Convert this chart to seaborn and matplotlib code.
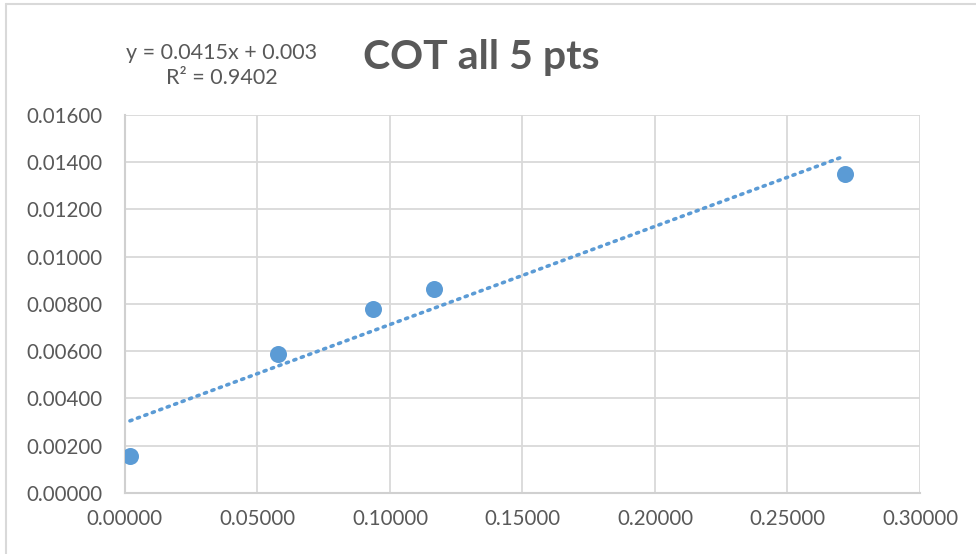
import numpy as np
import pandas as pd
import matplotlib
matplotlib.use("Agg")
import matplotlib.pyplot as plt
import seaborn as sns
from matplotlib.ticker import FormatStrFormatter
from matplotlib.lines import Line2D

# data
x_vals = [0.0019, 0.0577, 0.0936, 0.1166, 0.2717]
y_vals = [0.00156, 0.00588, 0.00778, 0.00863, 0.01350]
x_ticks = [0.0, 0.05, 0.10, 0.15, 0.20, 0.25, 0.30]
y_ticks = [0.0, 0.002, 0.004, 0.006, 0.008, 0.010, 0.012, 0.014, 0.016]

title = "COT all 5 pts"
eq_text = "y = 0.0415x + 0.003\nR² = 0.9402"

df = pd.DataFrame({"x": x_vals, "y": y_vals})

sns.set_style("white")
plt.rcParams['font.family'] = ['Lato', 'DejaVu Sans']

grey_txt = "#595959"
blue = "#5B9BD5"

fig = plt.figure(figsize=(9.76, 5.54), dpi=100)
ax = fig.add_axes([0.128, 0.1106, 0.8146, 0.6818])

# linear trendline over the data range
slope, intercept = np.polyfit(df["x"], df["y"], 1)
xs = np.array([df["x"].min(), df["x"].max()])
ax.plot(xs, slope * xs + intercept, linestyle=(0, (0.6, 1.6)), color=blue,
        lw=2.6, dash_capstyle="round", zorder=2)

sns.scatterplot(data=df, x="x", y="y", ax=ax, s=150, color=blue,
                edgecolor=blue, linewidth=0, zorder=3)

ax.set_xlim(0, 0.3)
ax.set_ylim(0, 0.016)
ax.set_xticks(x_ticks)
ax.set_yticks(y_ticks)
ax.xaxis.set_major_formatter(FormatStrFormatter("%.5f"))
ax.yaxis.set_major_formatter(FormatStrFormatter("%.5f"))
ax.tick_params(axis="both", length=0, labelsize=14.8, colors=grey_txt)
ax.tick_params(axis="x", pad=12)
ax.tick_params(axis="y", pad=16)
ax.set_xlabel("")
ax.set_ylabel("")
ax.grid(True, color="#D9D9D9", lw=1.3)
ax.set_axisbelow(True)
for s in ["top", "right"]:
    ax.spines[s].set_visible(False)
for s in ["left", "bottom"]:
    ax.spines[s].set_color("#D0D0D0")
    ax.spines[s].set_linewidth(1.5)

fig.text(0.493, 0.897, title, ha="center", va="center", fontsize=29.5,
         fontweight="bold", color=grey_txt)
fig.text(0.227, 0.882, eq_text, ha="center", va="center", fontsize=15.5,
         color=grey_txt, linespacing=1.3)

# chart frame (top and left edges visible)
fig.add_artist(Line2D([5.5 / 976, 1], [1 - 3.5 / 554, 1 - 3.5 / 554],
                      transform=fig.transFigure, color="#D9D9D9", lw=1.5))
fig.add_artist(Line2D([5.5 / 976, 5.5 / 976], [0, 1 - 3.5 / 554],
                      transform=fig.transFigure, color="#D9D9D9", lw=1.5))

fig.savefig("out.png", dpi=100, facecolor="white")
